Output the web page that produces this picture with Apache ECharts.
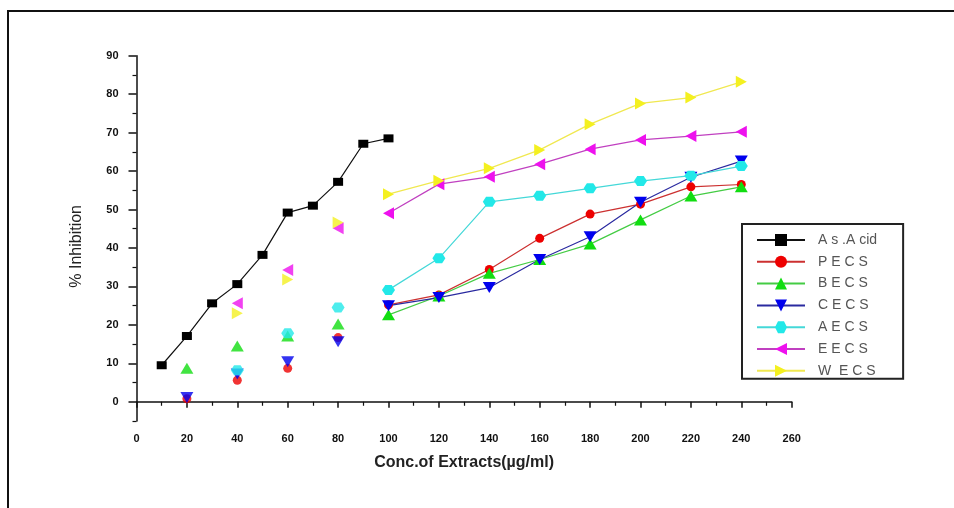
<!DOCTYPE html>
<html>
<head>
<meta charset="utf-8">
<script src="https://cdn.jsdelivr.net/npm/echarts@6/dist/echarts.min.js"></script>
<style>html,body{margin:0;padding:0;background:#fff}#c{width:954px;height:508px}</style>
</head>
<body>
<div id="c"></div>
<script>
// ---- data ----
const acidConc = [10, 20, 30, 40, 50, 60, 70, 80, 90, 100];
const acidVals = [9.5, 17.1, 25.6, 30.6, 38.2, 49.2, 51.0, 57.2, 67.1, 68.5];

const lineConc = [100, 120, 140, 160, 180, 200, 220, 240];
const lowConc3 = [20, 40, 60, 80];
const lowConc2 = [40, 60, 80];

const pecsLow = [0.8, 5.6, 8.7, 16.7];
const pecsLine = [25.2, 27.8, 34.4, 42.5, 48.8, 51.4, 55.9, 56.5];
const becsLow = [8.7, 14.5, 17.1, 20.2];
const becsLine = [22.6, 27.5, 33.4, 37.0, 41.0, 47.3, 53.5, 55.9];
const cecsLow = [1.1, 7.2, 10.4, 15.6];
const cecsLine = [25.0, 27.1, 29.7, 37.0, 42.9, 51.9, 58.4, 62.6];
const aecsLow = [8.2, 17.8, 24.5];
const aecsLine = [29.1, 37.3, 52.0, 53.6, 55.5, 57.4, 58.8, 61.3];
const eecsLow = [25.6, 34.3, 45.1];
const eecsLine = [49.0, 56.6, 58.5, 61.8, 65.7, 68.1, 69.1, 70.2];
const wecsLow = [23.0, 31.8, 46.6];
const wecsLine = [54.0, 57.5, 60.7, 65.5, 72.2, 77.6, 79.1, 83.2];

const names = ['A s .A cid', 'P E C S', 'B E C S', 'C E C S', 'A E C S', 'E E C S', 'W  E C S'];
const yMajor = [0, 10, 20, 30, 40, 50, 60, 70, 80, 90];
const yMinor = [-5, 5, 15, 25, 35, 45, 55, 65, 75, 85];

// ---- build ----
const zip = (xs, ys) => xs.map((x, i) => [x, ys[i]]);
const sym = {
  rect: 'rect',
  circle: 'circle',
  up: 'triangle',
  down: 'path://M0,0 L10,0 L5,9 Z',
  hex: 'path://M3,0 L9,0 L12,5 L9,10 L3,10 L0,5 Z',
  left: 'path://M10,0 L10,10 L0,5 Z',
  right: 'path://M0,0 L10,5 L0,10 Z'
};
const defs = [
  {name: names[0], line: zip(acidConc, acidVals), low: [], mc: '#000000', lc: '#111111', s: sym.rect, sz: [10, 8]},
  {name: names[1], line: zip(lineConc, pecsLine), low: zip(lowConc3, pecsLow), mc: '#ee0000', lc: '#cc3030', s: sym.circle, sz: 9},
  {name: names[2], line: zip(lineConc, becsLine), low: zip(lowConc3, becsLow), mc: '#11dd11', lc: '#44cc44', s: sym.up, sz: [13, 11]},
  {name: names[3], line: zip(lineConc, cecsLine), low: zip(lowConc3, cecsLow), mc: '#0000ee', lc: '#2a2aa0', s: sym.down, sz: [13, 11]},
  {name: names[4], line: zip(lineConc, aecsLine), low: zip(lowConc2, aecsLow), mc: '#22e8e8', lc: '#44d8d8', s: sym.hex, sz: [13, 10]},
  {name: names[5], line: zip(lineConc, eecsLine), low: zip(lowConc2, eecsLow), mc: '#ee11ee', lc: '#c040c0', s: sym.left, sz: [11, 12]},
  {name: names[6], line: zip(lineConc, wecsLine), low: zip(lowConc2, wecsLow), mc: '#f4f020', lc: '#f0e850', s: sym.right, sz: [11, 12]}
];
const series = [];
defs.forEach(d => {
  series.push({
    name: d.name, type: 'line', data: d.line, symbol: d.s, symbolSize: d.sz,
    itemStyle: {color: d.mc}, lineStyle: {color: d.lc, width: 1.2},
    z: 3, animation: false
  });
});
defs.forEach(d => {
  if (d.low.length) series.push({
    name: d.name, type: 'scatter', data: d.low, symbol: d.s, symbolSize: d.sz,
    itemStyle: {color: d.mc}, z: 3, animation: false
  });
});
// hidden helper axis for minor y ticks
series.push({type: 'line', yAxisIndex: 1, data: [], silent: true});

const labelFont = {fontSize: 11, fontWeight: 'bold', color: '#111', fontFamily: 'Liberation Sans, Arial, sans-serif'};

const option = {
  backgroundColor: '#fff',
  animation: false,
  grid: {left: 136.5, right: 162.3, top: 55.7, bottom: 87, containLabel: false},
  xAxis: {
    type: 'value', min: 0, max: 260, interval: 20,
    name: 'Conc.of Extracts(µg/ml)', nameLocation: 'middle', nameGap: 34,
    nameTextStyle: {fontSize: 16, fontWeight: 'bold', color: '#222', fontFamily: 'Liberation Sans, Arial, sans-serif'},
    axisLine: {lineStyle: {color: '#111', width: 1.5}},
    axisTick: {length: 6, lineStyle: {color: '#111', width: 1.5}},
    minorTick: {show: true, splitNumber: 2, length: 4, lineStyle: {color: '#111', width: 1.2}},
    axisLabel: Object.assign({margin: 12}, labelFont),
    splitLine: {show: false}
  },
  yAxis: [{
    type: 'value', min: -5, max: 90,
    name: '% Inhibition', nameLocation: 'middle', nameGap: 52, nameRotate: 90,
    nameTextStyle: {fontSize: 16, color: '#222', fontFamily: 'Liberation Sans, Arial, sans-serif', padding: [0, 0, 0, -16]},
    axisLine: {show: true, lineStyle: {color: '#111', width: 1.5}},
    axisTick: {show: true, length: 8, customValues: yMajor, lineStyle: {color: '#111', width: 1.5}},
    axisLabel: Object.assign({margin: 18, customValues: yMajor}, labelFont),
    splitLine: {show: false}
  }, {
    type: 'value', min: -5, max: 90, position: 'left', offset: 0,
    axisLine: {show: false},
    axisTick: {show: true, length: 4, customValues: yMinor, lineStyle: {color: '#111', width: 1.2}},
    axisLabel: {show: false},
    splitLine: {show: false}
  }],
  legend: {
    data: names, orient: 'vertical', left: 742, top: 224,
    itemWidth: 48, itemHeight: 15, itemGap: 7.8,
    padding: [9, 26, 1, 14],
    borderColor: '#222', borderWidth: 2, backgroundColor: '#fff',
    textStyle: {fontSize: 14, color: '#555', fontFamily: 'Liberation Sans, Arial, sans-serif', padding: [0, 0, 0, 8]},
    selectedMode: false
  },
  graphic: [
    {type: 'line', shape: {x1: 8, y1: 11, x2: 954, y2: 11}, style: {stroke: '#111', lineWidth: 2}},
    {type: 'line', shape: {x1: 8, y1: 10, x2: 8, y2: 508}, style: {stroke: '#111', lineWidth: 2}}
  ],
  series: series
};
const chart = echarts.init(document.getElementById('c'), null, {renderer: 'canvas'});
chart.setOption(option);
</script>
</body>
</html>
